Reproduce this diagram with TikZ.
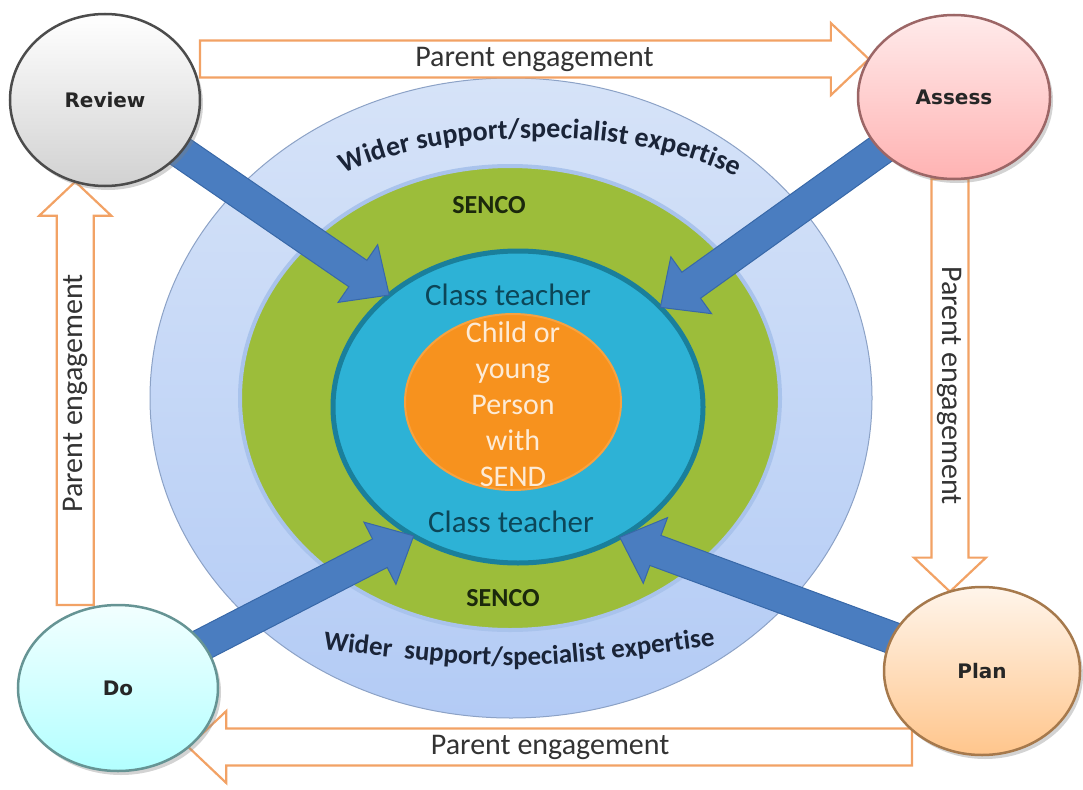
\documentclass[tikz,border=0pt]{standalone}
\usepackage{fontspec}
\setmainfont{Carlito}
\newfontfamily\stagefont{DejaVu Sans}
\usetikzlibrary{calc,shapes.geometric,shadows,decorations.text}
\pgfdeclarelayer{rings}
\pgfdeclarelayer{arrows}
\pgfsetlayers{rings,arrows,main}
\definecolor{wideblue}{HTML}{B3CBF5}
\definecolor{widetop}{HTML}{D6E3F8}
\definecolor{widerim}{HTML}{8CA2C6}
\definecolor{sencogreen}{HTML}{9CBD3A}
\definecolor{greenglow}{HTML}{A9C3EC}
\definecolor{teachteal}{HTML}{2DB2D6}
\definecolor{tealrim}{HTML}{1A7F9B}
\definecolor{childorange}{HTML}{F7921E}
\definecolor{arrowblue}{HTML}{4A7DC0}
\definecolor{arrowrim}{HTML}{3868A8}
\definecolor{peorange}{HTML}{F2A265}
\definecolor{teachtext}{HTML}{0C4658}
\definecolor{childtext}{HTML}{FDEBD6}
\definecolor{sencotext}{HTML}{1B280C}
\definecolor{widertext}{HTML}{1A2438}
\newcommand\widerfont{\bfseries\fontsize{28}{32}\selectfont\color{widertext}}
\newcommand\widerfontb{\bfseries\fontsize{27}{32}\selectfont\color{widertext}}
\def\blockarrow[#1](#2)(#3)(#4:#5:#6){\draw[#1] ($(#2)!#4!90:(#3)$) -- ($(#3)!#6!(#2)!#4!90:(#3)$) -- ($(#3)!#6!(#2)!#5!90:(#3)$) -- (#3) -- ($(#3)!#6!(#2)!#5!-90:(#3)$) -- ($(#3)!#6!(#2)!#4!-90:(#3)$) -- ($(#2)!#4!-90:(#3)$) -- cycle;}

\begin{document}
\begin{tikzpicture}[x=1pt,y=-1pt,
	ring/.style={ellipse, inner sep=0pt, outer sep=0pt},
	stage/.style={ellipse, inner sep=0pt, outer sep=0pt, line width=2.5pt, drop shadow={opacity=0.35, shadow xshift=3pt, shadow yshift=-4pt}, font=\stagefont\bfseries\fontsize{20}{24}\selectfont, text=black!85},
	bluearrow/.style={fill=arrowblue, draw=arrowrim, line width=1pt, line join=miter},
	pearrow/.style={fill=white, draw=peorange, line width=2.2pt, line join=miter},
	pefont/.style={font=\fontsize{30}{36}\selectfont, text=black!80},
	teachfont/.style={font=\fontsize{31}{36}\selectfont, text=teachtext},
	childfont/.style={font=\fontsize{30}{36}\selectfont, text=childtext, align=center},
	sencofont/.style={font=\bfseries\fontsize{26}{30}\selectfont, text=sencotext}]
			%%%%% START %%%%%
			\useasboundingbox (0,0) rectangle (1083,789);
			
			\begin{pgfonlayer}{rings}
			\node[ring, top color=widetop, bottom color=wideblue, draw=widerim, line width=1pt, minimum width=722pt, minimum height=640pt] (wide) at (511,398) {};
			\node[ring, fill=sencogreen, draw=greenglow, line width=4pt, minimum width=540pt, minimum height=464pt] (senco) at (510,398) {};
			\node[ring, fill=teachteal, draw=tealrim, line width=5pt, minimum width=370pt, minimum height=312pt] (teach) at (518,407) {};
			\node[ring, fill=childorange, draw=childorange!85!white, line width=2pt, minimum width=216pt, minimum height=176pt] (child) at (513,402) {};
			\end{pgfonlayer}
			
			\path[decorate, decoration={text along path, text align=center, text={|\widerfont|Wider support/specialist expertise}}] (326,184) .. controls (420,124) and (650,120) .. (754,187);
			\path[decorate, decoration={text along path, text align=center, text={|\widerfontb|Wider{~}{~}support/specialist expertise}}] (312,648) .. controls (518,672) .. (726,644);
			
			\node[sencofont] (sencotop) at (489,205) {SENCO};
			\node[sencofont] (sencobot) at (503,598) {SENCO};
			\node[teachfont] (teachtop) at (508,295) {Class teacher};
			\node[teachfont] (teachbot) at (511,522) {Class teacher};
			\node[childfont] (childtext) at (513,404) {Child or\\young\\Person\\with\\SEND};
			
			\node[stage, top color=white, bottom color=black!18, draw=black!70, minimum width=190pt, minimum height=172pt] (review) at (105,100) {Review};
			\node[stage, top color=red!8, bottom color=red!30, draw=red!35!black!60, minimum width=192pt, minimum height=164pt] (assess) at (954,97) {Assess};
			\node[stage, top color=cyan!5, bottom color=cyan!30, draw=teal!60!black!60, minimum width=200pt, minimum height=166pt] (do) at (118,688) {Do};
			\node[stage, top color=orange!8, bottom color=orange!45, draw=orange!50!black!70, minimum width=196pt, minimum height=168pt] (plan) at (982,671) {Plan};
			
			\begin{pgfonlayer}{arrows}
			\blockarrow[bluearrow](review.center)(teach.139)(16pt:35pt:38pt)
			\blockarrow[bluearrow](assess.center)(teach.35)(16pt:35pt:38pt)
			\blockarrow[bluearrow](do.center)(teach.231)(16pt:35pt:38pt)
			\blockarrow[bluearrow](plan.center)(teach.-52)(16pt:35pt:38pt)
			
			\coordinate (topTip) at (assess.156);
			\coordinate (topTail) at (review.east |- topTip);
			\coordinate (rightTip) at (plan.112);
			\coordinate (rightTail) at (rightTip |- assess.south);
			\coordinate (botTip) at (do.-40);
			\coordinate (botTail) at ($(plan.west |- botTip)+(28,0)$);
			\coordinate (leftTip) at (review.250);
			\coordinate (leftTail) at (leftTip |- do.north);
			
			\blockarrow[pearrow](topTail)(topTip)(18.5pt:36pt:38pt)
			\blockarrow[pearrow](rightTail)(rightTip)(18.5pt:36pt:34pt)
			\blockarrow[pearrow](botTail)(botTip)(18.5pt:36pt:38pt)
			\blockarrow[pearrow](leftTail)(leftTip)(18.5pt:36pt:34pt)
			\end{pgfonlayer}
			
			\node[pefont] (petop) at ($(topTail)!0.5!(topTip)$) {Parent engagement};
			\node[pefont, rotate=-90] (peright) at ($(rightTail)!0.5!(rightTip)$) {Parent engagement};
			\node[pefont] (pebot) at ($(botTail)!0.5!(botTip)$) {Parent engagement};
			\node[pefont, rotate=90] (peleft) at ($(leftTail)!0.5!(leftTip)$) {Parent engagement};
			%%%%% END %%%%%
\end{tikzpicture}
\end{document}
